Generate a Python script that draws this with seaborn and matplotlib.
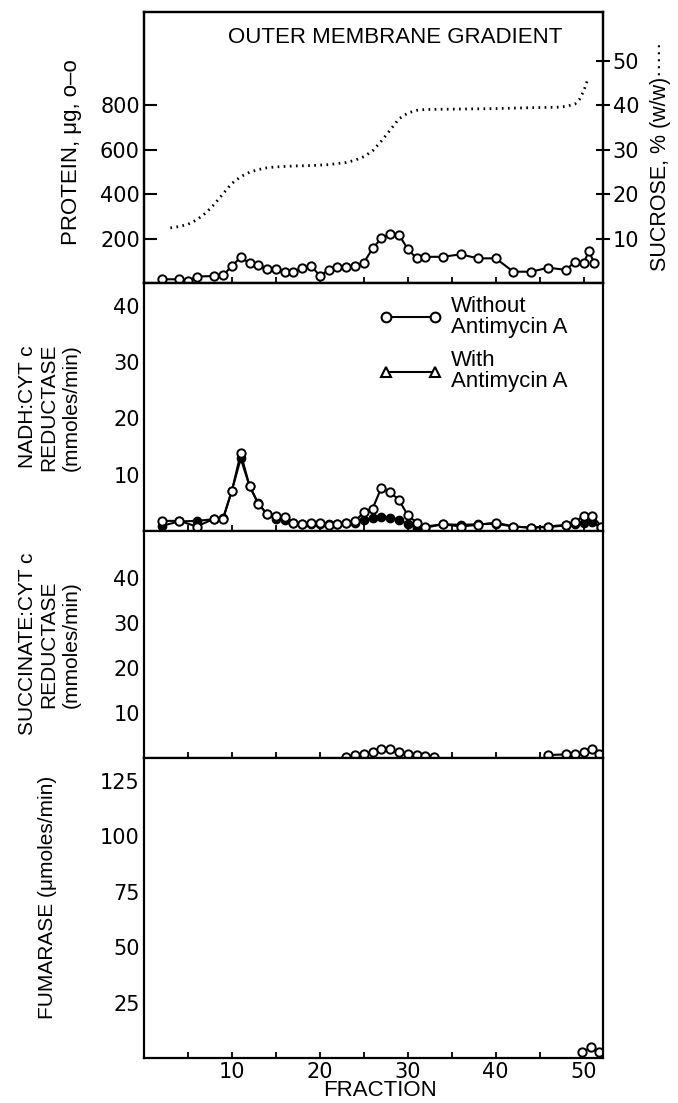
import matplotlib
matplotlib.use("Agg")
import matplotlib.pyplot as plt
import seaborn as sns
import pandas as pd
from matplotlib.lines import Line2D

# ---------------- data ----------------
protein_frac = [2, 4, 5, 6, 8, 9, 10, 11, 12, 13, 14, 15, 16, 17, 18, 19, 20, 21, 22, 23,
                24, 25, 26, 27, 28, 29, 30, 31, 32, 34, 36, 38, 40, 42, 44, 46, 48, 49,
                50, 50.6, 51.2]
protein_ug = [19, 19, 13, 31, 34, 37, 79, 118, 91, 83, 64, 64, 53, 53, 71, 79, 35, 61, 76, 76,
              79, 93, 158, 203, 222, 219, 154, 113, 120, 120, 131, 113, 113, 53, 53, 71, 61, 98,
              91, 147, 91]

sucrose_frac = [3, 4, 5, 6, 7, 8, 9, 10, 11, 12, 13, 14, 15, 17, 19, 21, 23, 24, 25, 26, 27,
                28, 29, 30, 31, 32, 36, 40, 44, 47, 48, 49, 49.5, 50, 50.4]
sucrose_pct = [12.5, 12.8, 13.3, 14.3, 15.8, 17.8, 20.2, 22.5, 24.0, 25.0, 25.6, 26.0, 26.2,
               26.4, 26.5, 26.7, 27.2, 27.7, 28.5, 29.8, 32.0, 34.5, 37.0, 38.3, 38.9, 39.1,
               39.2, 39.3, 39.5, 39.6, 39.8, 40.3, 41.3, 43.2, 45.5]

nadh_frac = [2, 4, 6, 8, 9, 10, 11, 12, 13, 14, 15, 16, 17, 18, 19, 20, 21, 22, 23, 24, 25,
             26, 27, 28, 29, 30, 31, 32, 34, 36, 38, 40, 42, 44, 46, 48, 49, 50, 51, 52]
nadh_without = [1.8, 1.8, 0.8, 2.2, 2.2, 7.2, 13.8, 8.0, 4.8, 3.0, 2.7, 2.5, 1.5, 1.2, 1.5,
                1.5, 1.1, 1.2, 1.5, 1.8, 3.3, 4.0, 7.7, 6.9, 5.5, 2.8, 1.5, 0.8, 1.2, 0.8,
                1.1, 1.5, 0.8, 0.6, 0.8, 1.1, 1.6, 2.7, 2.7, 0.8]
nadh_with = [0.9, 1.7, 1.8, 2.1, 2.3, 7.2, 12.9, 8.0, 4.9, 3.0, 2.1, 2.0, 1.5, 1.3, 1.3, 1.3,
             1.2, 1.3, 1.4, 1.5, 2.0, 2.3, 2.5, 2.4, 2.0, 1.2, 0.5, 0.6, 1.2, 1.1, 1.2, 1.3,
             0.8, 0.6, 0.7, 1.0, 1.2, 1.4, 1.6, 0.5]

succ_frac_a = [23, 24, 25, 26, 27, 28, 29, 30, 31, 32, 33]
succ_val_a = [0.2, 0.55, 0.7, 1.2, 1.8, 1.8, 1.3, 0.8, 0.55, 0.3, 0.2]
succ_frac_b = [46, 48, 49, 50, 51, 51.8]
succ_val_b = [0.55, 0.7, 0.8, 1.2, 1.8, 0.8]

fum_frac = [49.8, 50.8, 51.7]
fum_val = [2.5, 4.8, 2.5]

xticks_major = [10, 20, 30, 40, 50]
xticks_all = [5, 10, 15, 20, 25, 30, 35, 40, 45, 50]
protein_ticks = [200, 400, 600, 800]
sucrose_ticks = [10, 20, 30, 40, 50]
nadh_ticks = [10, 20, 30, 40]
succ_ticks = [10, 20, 30, 40]
fum_ticks = [25, 50, 75, 100, 125]

# ---------------- styling ----------------
sns.set_theme(style="white")
plt.rcParams["font.family"] = ["DejaVu Sans"]
TXT = ["Liberation Sans", "DejaVu Sans"]

fig = plt.figure(figsize=(6.78, 11.03), dpi=100)
H = 1103.0
gs = fig.add_gridspec(4, 1, height_ratios=[271.5, 247.5, 226.5, 300.5], hspace=0,
                      left=144 / 678, right=603 / 678, top=1 - 12 / H, bottom=1 - 1058 / H)
axes = [fig.add_subplot(gs[i]) for i in range(4)]

open_kw = dict(marker="o", markersize=6, markerfacecolor="white", markeredgecolor="black",
               markeredgewidth=1.4, color="black", linewidth=1.5)
fill_kw = dict(marker="o", markersize=6, markerfacecolor="black", markeredgecolor="black",
               markeredgewidth=1.0, color="black", linewidth=1.5)

for ax in axes:
    ax.set_xlim(0, 52.2)
    ax.set_xticks(xticks_all)
    ax.tick_params(axis="x", direction="in", length=4, width=1.3, labelbottom=False,
                   bottom=True, color="black")
    ax.tick_params(axis="y", direction="in", length=9, width=1.5, labelsize=15, pad=3,
                   color="black", labelcolor="black")
    for s in ax.spines.values():
        s.set_color("black")
        s.set_linewidth(1.6)
    ax.grid(False)

# ---- panel 1: protein + sucrose ----
ax1 = axes[0]
df_p = pd.DataFrame({"frac": protein_frac, "val": protein_ug})
sns.lineplot(data=df_p, x="frac", y="val", ax=ax1, sort=False, **open_kw)
ax1.set_ylim(0, 1220)
ax1.set_yticks(protein_ticks)
ax1.set_xlabel("")
ax1.set_ylabel("PROTEIN, μg, o–o", family=TXT, fontsize=16, color="black")
ax1.yaxis.set_label_coords(-0.135, 0.485)
ax1.text(0.547, 0.905, "OUTER MEMBRANE GRADIENT", transform=ax1.transAxes, ha="center",
         va="center", family=TXT, fontsize=16, color="black")

ax1r = ax1.twinx()
df_s = pd.DataFrame({"frac": sucrose_frac, "val": sucrose_pct})
sns.lineplot(data=df_s, x="frac", y="val", ax=ax1r, color="black", linewidth=2.0,
             linestyle=(0, (0.6, 1.6)), sort=False)
ax1r.set_ylim(0, 61)
ax1r.set_yticks(sucrose_ticks)
ax1r.tick_params(axis="y", direction="inout", length=10, width=1.5, labelsize=15, pad=2,
                 color="black", labelcolor="black")
ax1r.set_xlabel("")
ax1r.set_ylabel("SUCROSE, % (w/w)·····", family=TXT, fontsize=15.5, color="black")
ax1r.yaxis.set_label_coords(1.102, 0.47)
ax1r.grid(False)
for s in ax1r.spines.values():
    s.set_linewidth(1.6)
    s.set_color("black")

# ---- panel 2: NADH:cyt c reductase ----
ax2 = axes[1]
df_n = pd.DataFrame({"frac": nadh_frac, "without": nadh_without, "with": nadh_with})
sns.lineplot(data=df_n, x="frac", y="with", ax=ax2, sort=False, **fill_kw)
sns.lineplot(data=df_n, x="frac", y="without", ax=ax2, sort=False, **open_kw)
ax2.set_ylim(0, 44)
ax2.set_yticks(nadh_ticks)
ax2.set_xlabel("")
ax2.set_ylabel("NADH:CYT c\nREDUCTASE\n(mmoles/min)", family=TXT, fontsize=15,
               color="black", linespacing=1.2)
ax2.yaxis.set_label_coords(-0.138, 0.5)
handles = [
    Line2D([], [], color="black", lw=1.5, marker="o", ms=7, mfc="white", mec="black", mew=1.5),
    Line2D([], [], color="black", lw=1.5, marker="^", ms=7, mfc="white", mec="black", mew=1.5),
]
leg = ax2.legend(handles, ["Without\nAntimycin A", "With\nAntimycin A"], loc="upper left",
                 bbox_to_anchor=(0.47, 1.03), frameon=False, numpoints=2, handlelength=2.8,
                 handletextpad=0.4, labelspacing=0.55,
                 prop={"family": TXT, "size": 16})
for t in leg.get_texts():
    t.set_color("black")
    t.set_linespacing(1.0)

# ---- panel 3: succinate:cyt c reductase ----
ax3 = axes[2]
sns.lineplot(x=succ_frac_a, y=succ_val_a, ax=ax3, sort=False, **open_kw)
sns.lineplot(x=succ_frac_b, y=succ_val_b, ax=ax3, sort=False, **open_kw)
ax3.set_ylim(0, 50.6)
ax3.set_yticks(succ_ticks)
ax3.set_ylabel("SUCCINATE:CYT c\nREDUCTASE\n(mmoles/min)", family=TXT, fontsize=15,
               color="black", linespacing=1.2)
ax3.yaxis.set_label_coords(-0.138, 0.5)

# ---- panel 4: fumarase ----
ax4 = axes[3]
sns.lineplot(x=fum_frac, y=fum_val, ax=ax4, sort=False, **open_kw)
ax4.set_ylim(0, 135.5)
ax4.set_yticks(fum_ticks)
ax4.set_ylabel("FUMARASE (μmoles/min)", family=TXT, fontsize=15, color="black")
ax4.yaxis.set_label_coords(-0.19, 0.535)
ax4.tick_params(axis="x", labelbottom=True, labelsize=15, pad=3, labelcolor="black")
ax4.set_xticks(xticks_all)
ax4.set_xticklabels([str(t) if t in xticks_major else "" for t in xticks_all])
ax4.set_xlabel("")
fig.text(380 / 678, 1 - 1091 / H, "FRACTION", ha="center", va="center", family=TXT,
         fontsize=16, color="black")

for ax in axes:
    ax.set_xlim(0, 52.2)
    if ax is not ax4:
        ax.set_xlabel("")
    ax.set_facecolor("white")

fig.savefig("out.png", dpi=100, facecolor="white")
